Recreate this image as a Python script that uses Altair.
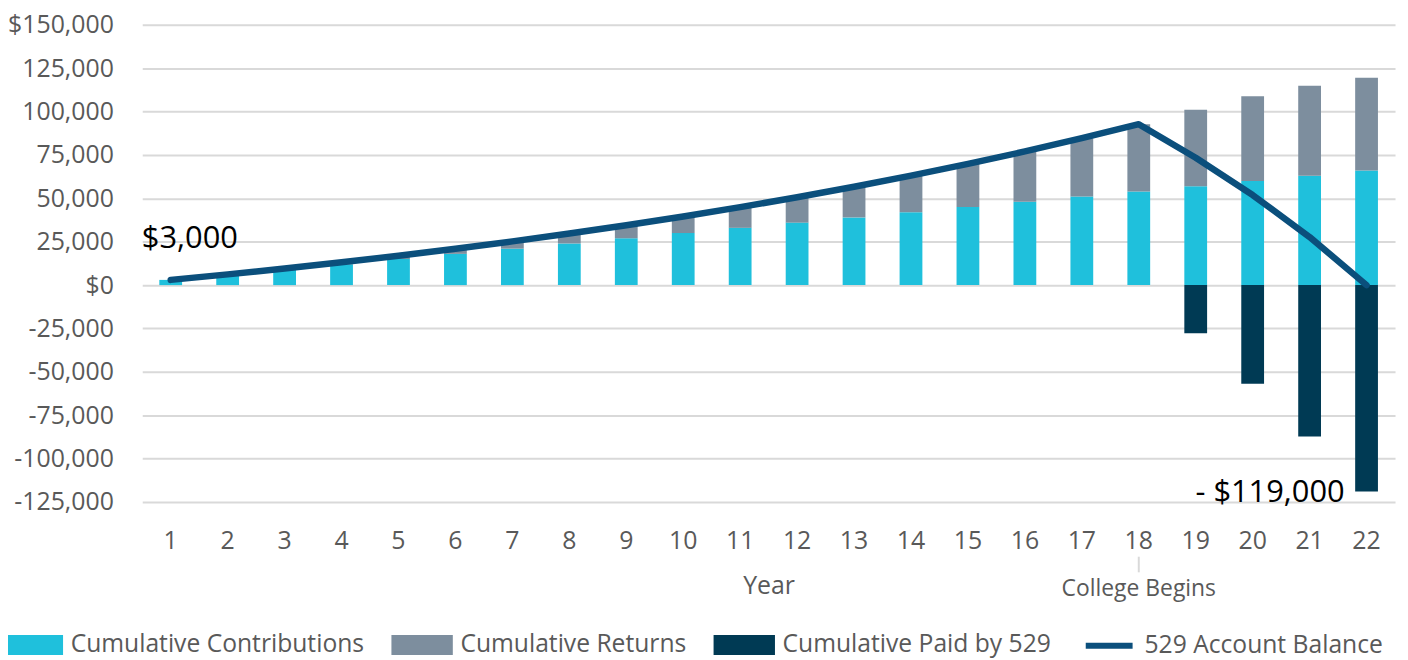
import altair as alt
import pandas as pd

years = list(range(1, 23))
contributions = [3000, 6000, 9000, 12000, 15000, 18000, 21000, 24000, 27000, 30000, 33000,
                 36000, 39000, 42000, 45000, 48000, 51000, 54000, 57000, 60000, 63000, 66000]
returns = [0, 180, 551, 1124, 1911, 2926, 4181, 5692, 7474, 9542, 11915,
           14610, 17647, 21046, 24829, 29019, 33640, 38717, 44100, 48800, 51900, 53500]
paid_years = [19, 20, 21, 22]
paid = [-27700, -56900, -87200, -119000]
balance = [3000, 6180, 9551, 13124, 16911, 20926, 25181, 29692, 34474, 39542, 44915,
           50610, 56647, 63046, 69829, 77019, 84640, 92717, 73400, 51900, 27700, 0]

bar_names = ["Cumulative Contributions", "Cumulative Returns", "Cumulative Paid by 529"]
bar_colors = ["#1FC0DC", "#7D8E9E", "#003A54"]
line_name = "529 Account Balance"
line_color = "#0B4F7C"
y_ticks = [150000, 125000, 100000, 75000, 50000, 25000, 0, -25000, -50000, -75000, -100000, -125000]

FONT = "Open Sans"
GREY = "#595959"

rows = []
for i, yr in enumerate(years):
    rows.append({"Year": yr, "series": bar_names[0], "value": contributions[i], "ord": 0})
    if returns[i] > 0:
        rows.append({"Year": yr, "series": bar_names[1], "value": returns[i], "ord": 1})
for yr, v in zip(paid_years, paid):
    rows.append({"Year": yr, "series": bar_names[2], "value": v, "ord": 2})
bars_df = pd.DataFrame(rows)
line_df = pd.DataFrame({"Year": years, "balance": balance, "lseries": [line_name] * len(years)})

x_enc = alt.X("Year:O", title="Year",
              scale=alt.Scale(paddingInner=0.6, paddingOuter=0.3),
              axis=alt.Axis(labelAngle=0, domain=False, ticks=False, tickSize=0,
                            labelFont=FONT, labelFontSize=25, labelColor=GREY, labelPadding=27,
                            titleFont=FONT, titleFontSize=25, titleFontWeight="normal",
                            titleColor=GREY, titlePadding=20, grid=False))
y_scale = alt.Scale(domain=[-125000, 150000], nice=False, zero=False)

label_expr = ("datum.value == 150000 || datum.value == 0 ? '$' + format(datum.value, ',') : "
              "(datum.value < 0 ? '-' : '') + format(abs(datum.value), ',')")

bars = alt.Chart(bars_df).mark_bar().encode(
    x=x_enc,
    y=alt.Y("value:Q", title=None, scale=y_scale, stack="zero",
            axis=alt.Axis(values=y_ticks, labelExpr=label_expr, domain=False, ticks=False,
                          labelFont=FONT, labelFontSize=25, labelColor=GREY, labelPadding=29,
                          gridColor="#D9D9D9", gridWidth=2)),
    color=alt.Color("series:N", title=None,
                    scale=alt.Scale(domain=bar_names, range=bar_colors),
                    legend=alt.Legend(orient="none", direction="horizontal", legendX=-127, legendY=607,
                                      labelFont=FONT, labelFontSize=24.8, labelColor=GREY,
                                      labelLimit=600,
                                      symbolType="M-1.9,-0.62H1.9V0.62H-1.9Z",
                                      symbolSize=1056, labelOffset=22, columnPadding=26,
                                      symbolStrokeWidth=0)),
    order=alt.Order("ord:Q"),
)

line = alt.Chart(line_df).mark_line(strokeWidth=6.5, strokeCap="round", strokeJoin="round").encode(
    x=alt.X("Year:O"),
    y=alt.Y("balance:Q", scale=y_scale),
    stroke=alt.Stroke("lseries:N", title=None,
                      scale=alt.Scale(domain=[line_name], range=[line_color]),
                      legend=alt.Legend(orient="none", direction="horizontal", legendX=953, legendY=605,
                                        labelFont=FONT, labelFontSize=24.8, labelColor=GREY,
                                        labelLimit=600,
                                        symbolType="M-1.45,0H1.45", symbolSize=1056, symbolStrokeWidth=6,
                                        labelOffset=16)),
)

ann_df = pd.DataFrame({"Year": [1, 22], "y": [26300, -119600], "label": ["$3,000", "- $119,000"]})
ann_left = alt.Chart(ann_df.iloc[[0]]).mark_text(font=FONT, fontSize=31, color="black", align="left",
                                                   baseline="middle", dx=-29).encode(
    x=alt.X("Year:O"), y=alt.Y("y:Q", scale=y_scale), text="label:N")
ann_right = alt.Chart(ann_df.iloc[[1]]).mark_text(font=FONT, fontSize=31, color="black", align="right",
                                                    baseline="middle", dx=-22).encode(
    x=alt.X("Year:O"), y=alt.Y("y:Q", scale=y_scale), text="label:N")

college_df = pd.DataFrame({"Year": [18], "y1": [-156500], "y2": [-165500], "ty": [-175000],
                           "label": ["College Begins"]})
college_rule = alt.Chart(college_df).mark_rule(color="#D9D9D9", strokeWidth=2).encode(
    x=alt.X("Year:O"), y=alt.Y("y1:Q", scale=y_scale), y2="y2:Q")
college_text = alt.Chart(college_df).mark_text(font=FONT, fontSize=23, color=GREY, baseline="middle").encode(
    x=alt.X("Year:O"), y=alt.Y("ty:Q", scale=y_scale), text="label:N")

chart = alt.layer(bars, line, ann_left, ann_right, college_rule, college_text).properties(
    width=1260, height=480,
    autosize=alt.AutoSizeParams(type="none"),
    padding={"left": 135, "top": 15, "right": 5, "bottom": 158},
).configure_view(stroke=None)

chart.save("out.html", embed_options={"renderer": "svg", "actions": False})
